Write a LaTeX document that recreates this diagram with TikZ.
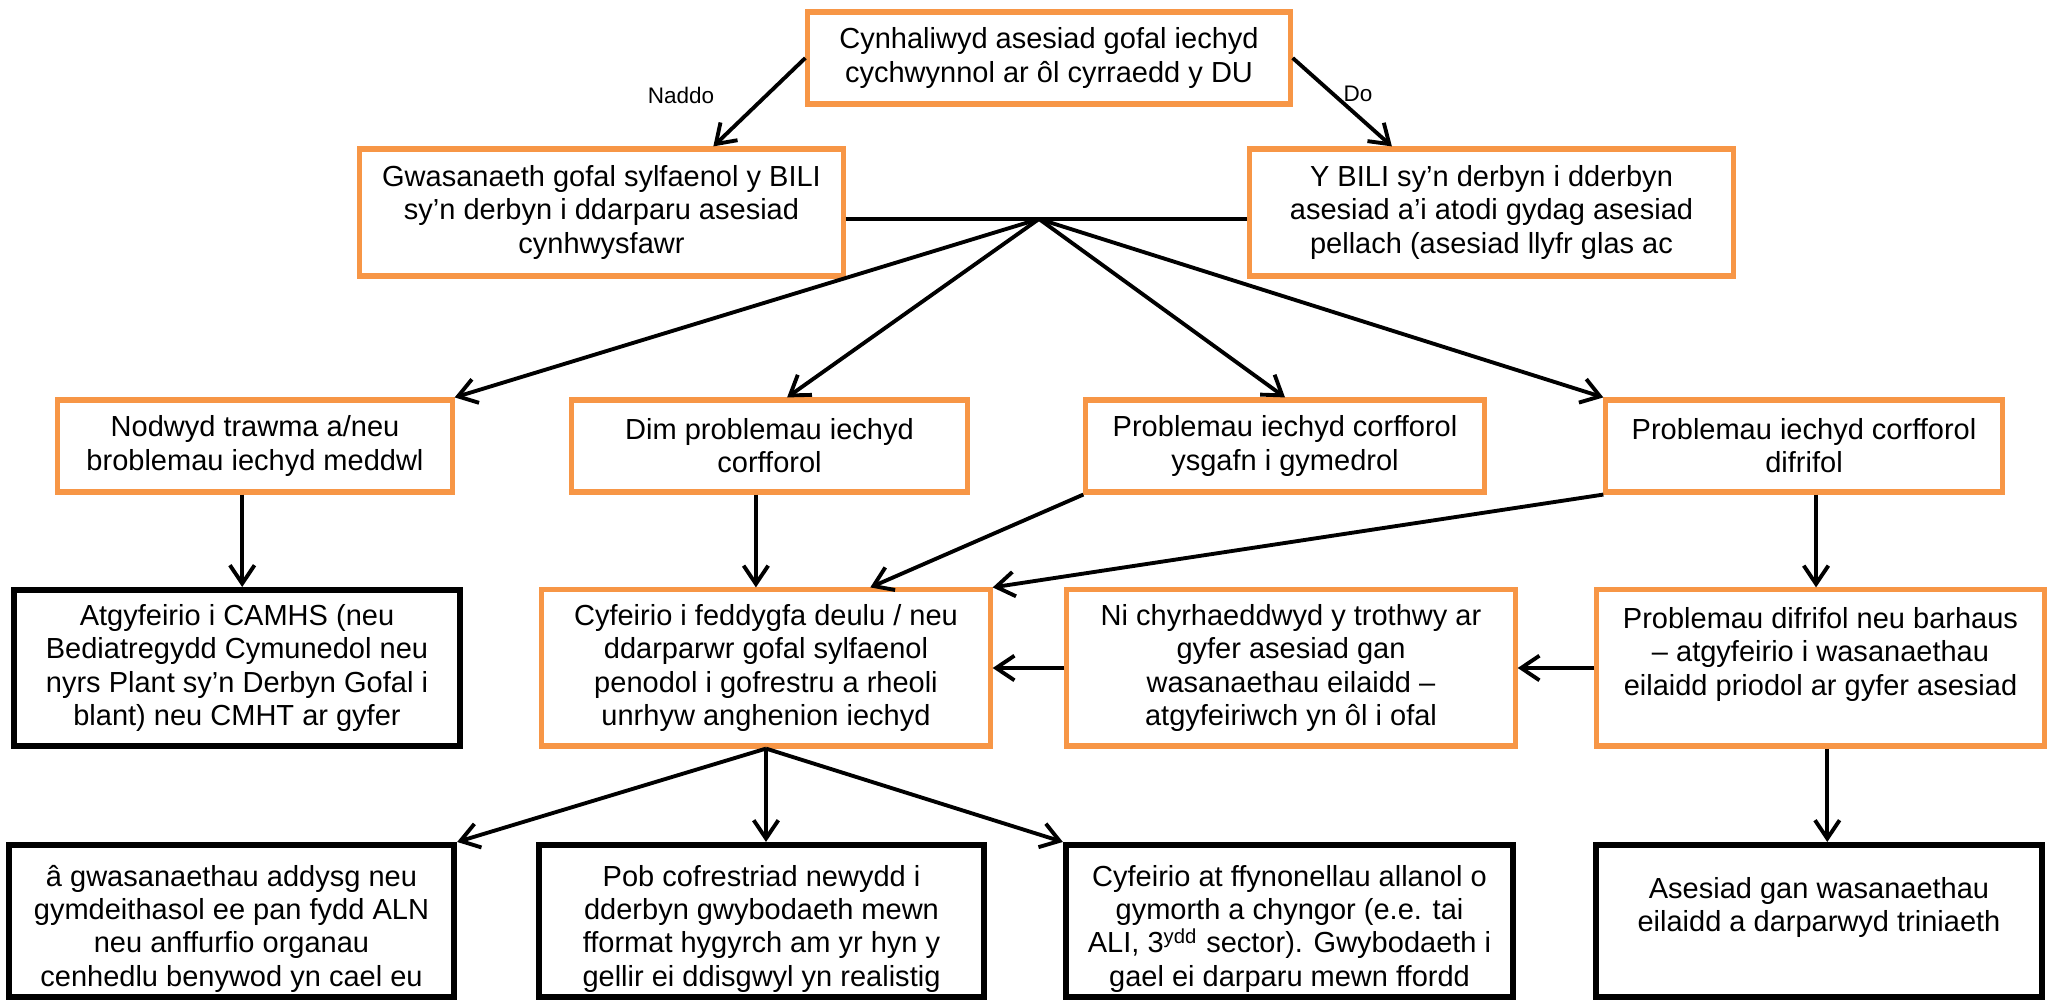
\documentclass[tikz,border=0pt]{standalone}
\usepackage{fontspec}
\setmainfont{Liberation Sans}
\usepackage{xcolor}
\usepackage{tikz}
\usetikzlibrary{arrows.meta,calc}
\definecolor{boxorange}{HTML}{F79646}
\tikzset{
obox/.style = {rectangle, draw=boxorange, line width=1.45pt, align=center,
               inner sep=0pt, minimum width=#1},
obox/.default = 4.48cm % width of the orange box
}
\tikzset{
kbox/.style = {rectangle, draw=black, line width=1.7pt, align=center,
               inner sep=0pt, minimum width=#1},
kbox/.default = 4.46cm % width of the black box
}
\tikzset{
lbl/.style = {inner sep=0pt, font=\fontsize{6.4pt}{7.5pt}\selectfont}
}
\newcommand{\boxgap}{\rule{0pt}{10.5pt}}

\begin{document}
\begin{tikzpicture}[x=0.01cm, y=-0.01cm, line width=1.1pt,
  >={Straight Barb[length=5.2pt,width=7pt]},
  font=\fontsize{8.25pt}{9.4pt}\selectfont]
  \useasboundingbox (0,0) rectangle (2048,1001);

  % Boxes
    \node[obox=4.82cm, minimum height=0.92cm] (startBox) at (1049,58) {Cynhaliwyd asesiad gofal iechyd\\cychwynnol ar ôl cyrraedd y DU};
    \node[obox=4.83cm, minimum height=1.27cm] (gofalBox) at (601.5,212.5) {Gwasanaeth gofal sylfaenol y BILI\\sy’n derbyn i ddarparu asesiad\\cynhwysfawr};
    \node[obox=4.83cm, minimum height=1.27cm] (biliBox) at (1491.5,212.5) {Y BILI sy’n derbyn i dderbyn\\asesiad a’i atodi gydag asesiad\\pellach (asesiad llyfr glas ac};

    \node[obox=3.94cm, minimum height=0.92cm] (traumaBox) at (255,446) {Nodwyd trawma a/neu\\broblemau iechyd meddwl};
    \node[obox=3.95cm, minimum height=0.92cm] (dimBox) at (769.5,446) {Dim problemau iechyd\\corfforol};
    \node[obox=3.98cm, minimum height=0.92cm] (ysgafnBox) at (1285,446) {Problemau iechyd corfforol\\ysgafn i gymedrol};
    \node[obox=3.96cm, minimum height=0.92cm] (difrifolBox) at (1804,446) {Problemau iechyd corfforol\\difrifol};

    \node[kbox, minimum height=1.56cm] (camhsBox) at (237,668) {Atgyfeirio i CAMHS (neu\\Bediatregydd Cymunedol neu\\nyrs Plant sy’n Derbyn Gofal i\\blant) neu CMHT ar gyfer};
    \node[obox, minimum height=1.56cm] (meddygBox) at (766,668) {Cyfeirio i feddygfa deulu / neu\\ddarparwr gofal sylfaenol\\penodol i gofrestru a rheoli\\unrhyw anghenion iechyd};
    \node[obox, minimum height=1.56cm] (trothwyBox) at (1291,668) {Ni chyrhaeddwyd y trothwy ar\\gyfer asesiad gan\\wasanaethau eilaidd –\\atgyfeiriwch yn ôl i ofal};
    \node[obox=4.47cm, minimum height=1.56cm] (barhausBox) at (1820.5,668) {Problemau difrifol neu barhaus\\– atgyfeirio i wasanaethau\\eilaidd priodol ar gyfer asesiad\\\mbox{}};

    \node[kbox=4.45cm, minimum height=1.52cm] (addysgBox) at (231.5,921) {\boxgap â gwasanaethau addysg neu\\gymdeithasol ee pan fydd ALN\\neu anffurfio organau\\cenhedlu benywod yn cael eu};
    \node[kbox=4.45cm, minimum height=1.52cm] (cofrestrBox) at (761.5,921) {\boxgap Pob cofrestriad newydd i\\dderbyn gwybodaeth mewn\\fformat hygyrch am yr hyn y\\gellir ei ddisgwyl yn realistig};
    \node[kbox=4.47cm, minimum height=1.52cm] (ffynonBox) at (1289.5,921) {\boxgap Cyfeirio at ffynonellau allanol o\\gymorth a chyngor (e.e. tai\\ALI, 3\textsuperscript{ydd} sector). Gwybodaeth i\\gael ei darparu mewn ffordd};
    \node[kbox, minimum height=1.52cm] (asesiadBox) at (1819,921) {Asesiad gan wasanaethau\\eilaidd a darparwyd triniaeth\\\mbox{}};

  % Node
    \coordinate (fanPoint) at (1039,219);
    \coordinate (traumaOut) at ($(traumaBox.south west)!0.468!(traumaBox.south east)$);
    \coordinate (dimOut) at ($(dimBox.south west)!0.466!(dimBox.south east)$);
    \coordinate (difrifolOut) at ($(difrifolBox.south west)!0.53!(difrifolBox.south east)$);
    \coordinate (barhausOut) at ($(barhausBox.south west)!0.515!(barhausBox.south east)$);
    \node[lbl] (naddoLbl) at (681,95) {Naddo};
    \node[lbl] (doLbl) at (1358,94) {Do};

  % Lines
    \draw[->] (startBox.west) -- ($(gofalBox.north west)!0.729!(gofalBox.north east)$);
    \draw[->] (startBox.east) -- ($(biliBox.north west)!0.296!(biliBox.north east)$);
    \draw (gofalBox.east |- fanPoint) -- (biliBox.west |- fanPoint);
    \draw[->] (fanPoint) -- (traumaBox.north east);
    \draw[->] (fanPoint) -- ($(dimBox.north west)!0.544!(dimBox.north east)$);
    \draw[->] (fanPoint) -- (ysgafnBox.north);
    \draw[->] (fanPoint) -- (difrifolBox.north west);
    \draw[->] (traumaOut) -- (traumaOut |- camhsBox.north);
    \draw[->] (dimOut) -- (dimOut |- meddygBox.north);
    \draw[->] (ysgafnBox.south west) -- ($(meddygBox.north west)!0.73!(meddygBox.north east)$);
    \draw[->] (difrifolBox.south west) -- (meddygBox.north east);
    \draw[->] (difrifolOut) -- (difrifolOut |- barhausBox.north);
    \draw[->] (barhausBox.west) -- (trothwyBox.east);
    \draw[->] (trothwyBox.west) -- (meddygBox.east);
    \draw[->] (barhausOut) -- (barhausOut |- asesiadBox.north);
    \draw[->] (meddygBox.south) -- (addysgBox.north east);
    \draw[->] (meddygBox.south) -- (meddygBox.south |- cofrestrBox.north);
    \draw[->] (meddygBox.south) -- (ffynonBox.north west);
\end{tikzpicture}
\end{document}
